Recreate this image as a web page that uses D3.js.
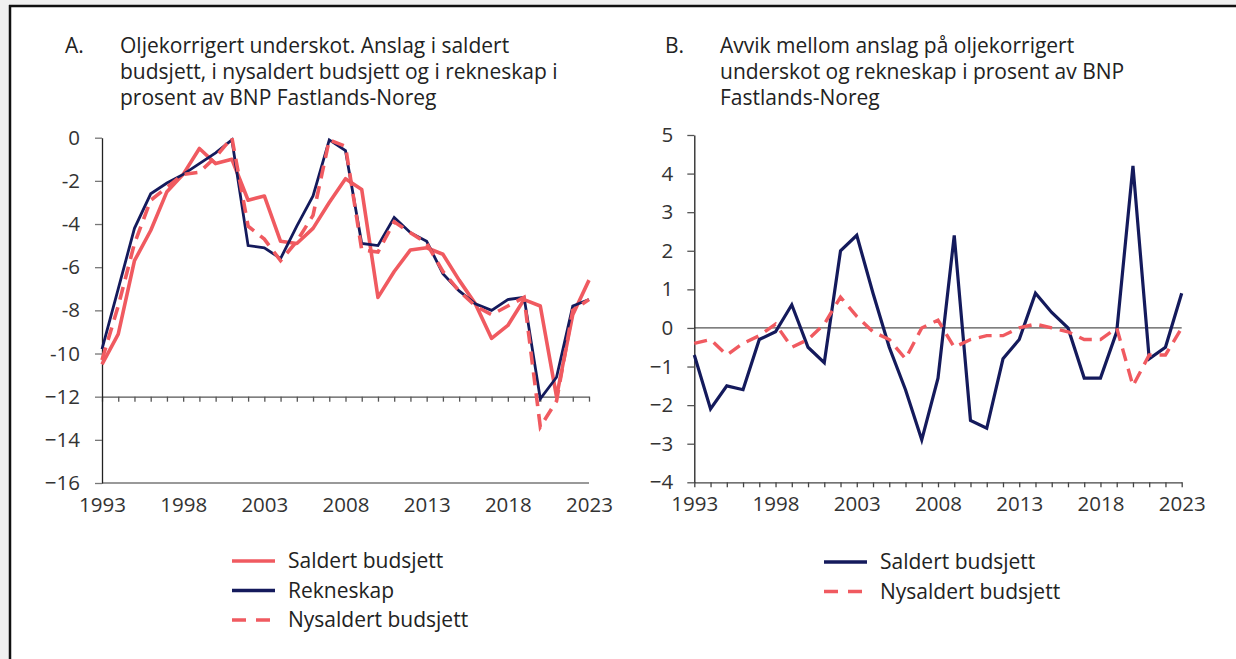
<!DOCTYPE html>
<html>
<head>
<meta charset="utf-8">
<script src="https://cdnjs.cloudflare.com/ajax/libs/d3/7.8.5/d3.min.js"></script>
<style>
  body { margin: 0; background: #f0f0f0; }
  svg { display: block; font-family: "Open Sans", "Noto Sans", sans-serif; }
  .tick text { fill: #333; }
</style>
</head>
<body>
<script>
// years 1993-2023
var years = d3.range(1993, 2024);
var xTickYears = [1993, 1998, 2003, 2008, 2013, 2018, 2023];

// panel A: oljekorrigert underskot, % av BNP Fastlands-Noreg
var saldert = [-10.5, -9.1, -5.7, -4.3, -2.5, -1.7, -0.5, -1.2, -1.0, -2.9, -2.7, -4.8, -4.9, -4.2, -3.0, -1.9,
    -2.4, -7.4, -6.2, -5.2, -5.1, -5.4, -6.6, -7.7, -9.3, -8.7, -7.5, -7.8, -12.0, -8.2, -6.6];
var rekneskap = [-9.8, -7.0, -4.2, -2.6, -2.1, -1.7, -1.2, -0.7, -0.1, -5.0, -5.1, -5.6, -4.1, -2.7, -0.1, -0.6,
    -4.9, -5.0, -3.7, -4.4, -4.8, -6.3, -7.1, -7.7, -8.0, -7.5, -7.4, -12.1, -11.1, -7.8, -7.5];
var nysaldert = [-10.3, -7.8, -4.9, -2.9, -2.3, -1.7, -1.6, -0.9, 0.0, -4.1, -4.7, -5.7, -4.8, -3.6, -0.1, -0.4,
    -5.2, -5.3, -3.9, -4.4, -4.9, -6.2, -7.1, -7.8, -8.2, -7.8, -7.4, -13.4, -12.2, -8.0, -7.5];
var yTicksA = [0, -2, -4, -6, -8, -10, -12, -14, -16];
var yLabelsA = ["0", "-2", "-4", "-6", "-8", "-10", "\u221212", "\u221214", "\u221216"];

// panel B: avvik mellom anslag og rekneskap
var avvikSaldert = [-0.7, -2.1, -1.5, -1.6, -0.3, -0.1, 0.6, -0.5, -0.9, 2.0, 2.4, 0.9, -0.5, -1.6, -2.9, -1.3,
    2.4, -2.4, -2.6, -0.8, -0.3, 0.9, 0.4, 0.0, -1.3, -1.3, -0.1, 4.2, -0.8, -0.5, 0.9];
var avvikNysaldert = [-0.4, -0.3, -0.7, -0.4, -0.2, 0.1, -0.5, -0.3, 0.1, 0.8, 0.3, -0.1, -0.3, -0.8, 0.0, 0.2,
    -0.5, -0.3, -0.2, -0.2, 0.0, 0.1, 0.0, -0.1, -0.3, -0.3, 0.0, -1.5, -0.7, -0.7, 0.0];
var yTicksB = [5, 4, 3, 2, 1, 0, -1, -2, -3, -4];

var coral = "#f05a60", navy = "#141a5c";

var W = 1236, H = 659;
var svg = d3.select("body").append("svg")
    .attr("width", W)
    .attr("height", H);

// frame
svg.append("rect").attr("x", 10).attr("y", 6).attr("width", W).attr("height", H)
    .attr("fill", "#fff");
svg.append("line").attr("x1", 10).attr("x2", 10).attr("y1", 5).attr("y2", H).attr("stroke", "#111").attr("stroke-width", 2.5);
svg.append("line").attr("x1", 9).attr("x2", W).attr("y1", 6).attr("y2", 6).attr("stroke", "#111").attr("stroke-width", 2.5);

// titles
function title(x, letter, lines) {
    var g = svg.append("g").attr("fill", "#222").style("font-size", "21px");
    g.append("text").attr("x", x).attr("y", 53).text(letter);
    lines.forEach(function (t, i) {
        g.append("text").attr("x", x + 55).attr("y", 53 + i * 26).text(t);
    });
}
title(65, "A.", ["Oljekorrigert underskot. Anslag i saldert", "budsjett, i nysaldert budsjett og i rekneskap i", "prosent av BNP Fastlands-Noreg"]);
title(665, "B.", ["Avvik mellom anslag på oljekorrigert", "underskot og rekneskap i prosent av BNP", "Fastlands-Noreg"]);

function labelStyle(g) {
    g.attr("font-family", null).attr("font-size", null);
    g.selectAll("text").style("font-size", "20.5px");
}

//---------panel A-----------//
var xA = d3.scaleLinear().domain([1993, 2023]).range([102, 589]);
var yA = d3.scaleLinear().domain([0, -16]).range([137.7, 483]);

// bottom frame line at -16
svg.append("line").attr("x1", xA(1993)).attr("x2", xA(2023))
    .attr("y1", yA(-16)).attr("y2", yA(-16)).attr("stroke", "#777").attr("stroke-width", 1.3);

// x axis drawn at -12 with yearly ticks
svg.append("g")
    .attr("transform", "translate(0," + yA(-12) + ")")
    .call(d3.axisBottom(xA).tickValues(years).tickSize(5).tickSizeOuter(0).tickFormat(""))
    .call(function (g) { g.selectAll("line, path").attr("stroke", "#555").attr("stroke-width", 1.3); });

// x labels under the chart
svg.append("g")
    .attr("transform", "translate(0," + yA(-16) + ")")
    .call(d3.axisBottom(xA).tickValues(xTickYears).tickSize(0).tickPadding(14).tickFormat(d3.format("d")))
    .call(function (g) {
        g.select(".domain").remove();
        labelStyle(g);
    });

// y axis
svg.append("g")
    .attr("transform", "translate(" + xA(1993) + ",0)")
    .call(d3.axisLeft(yA).tickValues(yTicksA).tickSize(7).tickSizeOuter(0).tickPadding(15)
        .tickFormat(function (d, i) { return yLabelsA[i]; }))
    .call(function (g) {
        g.select(".domain").attr("stroke", "#222").attr("stroke-width", 1.3);
        g.selectAll(".tick line").attr("stroke", "#777").attr("stroke-width", 1.3);
        labelStyle(g);
    });

var lineA = function (vals) {
    return d3.line()
        .x(function (d, i) { return xA(years[i]); })
        .y(function (d) { return yA(d); })(vals);
};

svg.append("path").attr("d", lineA(saldert)).attr("fill", "none")
    .attr("stroke", coral).attr("stroke-width", 3.6).attr("stroke-linejoin", "round");
svg.append("path").attr("d", lineA(rekneskap)).attr("fill", "none")
    .attr("stroke", navy).attr("stroke-width", 2.8);
svg.append("path").attr("d", lineA(nysaldert)).attr("fill", "none")
    .attr("stroke", coral).attr("stroke-width", 3.6).attr("stroke-dasharray", "13,8");

//---------panel B-----------//
var xB = d3.scaleLinear().domain([1993, 2023]).range([694.3, 1181.7]);
var yB = d3.scaleLinear().domain([5, -4]).range([135, 482.3]);

// zero line
svg.append("line").attr("x1", xB(1993)).attr("x2", xB(2023))
    .attr("y1", yB(0)).attr("y2", yB(0)).attr("stroke", "#555").attr("stroke-width", 1.2);

svg.append("g")
    .attr("transform", "translate(0," + yB(-4) + ")")
    .call(d3.axisBottom(xB).tickValues(years).tickSize(5).tickSizeOuter(0).tickFormat(""))
    .call(function (g) { g.selectAll("line, path").attr("stroke", "#444").attr("stroke-width", 1.3); });

svg.append("g")
    .attr("transform", "translate(0," + yB(-4) + ")")
    .call(d3.axisBottom(xB).tickValues(xTickYears).tickSize(0).tickPadding(14).tickFormat(d3.format("d")))
    .call(function (g) {
        g.select(".domain").remove();
        labelStyle(g);
    });

svg.append("g")
    .attr("transform", "translate(" + xB(1993) + ",0)")
    .call(d3.axisLeft(yB).tickValues(yTicksB).tickSize(7).tickSizeOuter(0).tickPadding(14)
        .tickFormat(function (d) { return d < 0 ? "\u2212" + Math.abs(d) : String(d); }))
    .call(function (g) {
        g.select(".domain").attr("stroke", "#222").attr("stroke-width", 1.3);
        g.selectAll(".tick line").attr("stroke", "#555").attr("stroke-width", 1.3);
        labelStyle(g);
    });

var lineB = function (vals) {
    return d3.line()
        .x(function (d, i) { return xB(years[i]); })
        .y(function (d) { return yB(d); })(vals);
};

svg.append("path").attr("d", lineB(avvikSaldert)).attr("fill", "none")
    .attr("stroke", navy).attr("stroke-width", 3.2);
svg.append("path").attr("d", lineB(avvikNysaldert)).attr("fill", "none")
    .attr("stroke", coral).attr("stroke-width", 3.4).attr("stroke-dasharray", "13,8");

//---------legends-----------//
function legend(x, y0, items) {
    items.forEach(function (it, i) {
        var y = y0 + i * 29.5;
        svg.append("line").attr("x1", x).attr("x2", x + 43).attr("y1", y).attr("y2", y)
            .attr("stroke", it.color).attr("stroke-width", 3.6)
            .attr("stroke-dasharray", it.dash ? "14,10" : null);
        svg.append("text").attr("x", x + 56).attr("y", y + 7)
            .style("font-size", "21px").attr("fill", "#222").text(it.name);
    });
}
legend(232, 561, [
    {name: "Saldert budsjett", color: coral},
    {name: "Rekneskap", color: navy},
    {name: "Nysaldert budsjett", color: coral, dash: true}
]);
legend(824, 562, [
    {name: "Saldert budsjett", color: navy},
    {name: "Nysaldert budsjett", color: coral, dash: true}
]);
</script>
</body>
</html>
